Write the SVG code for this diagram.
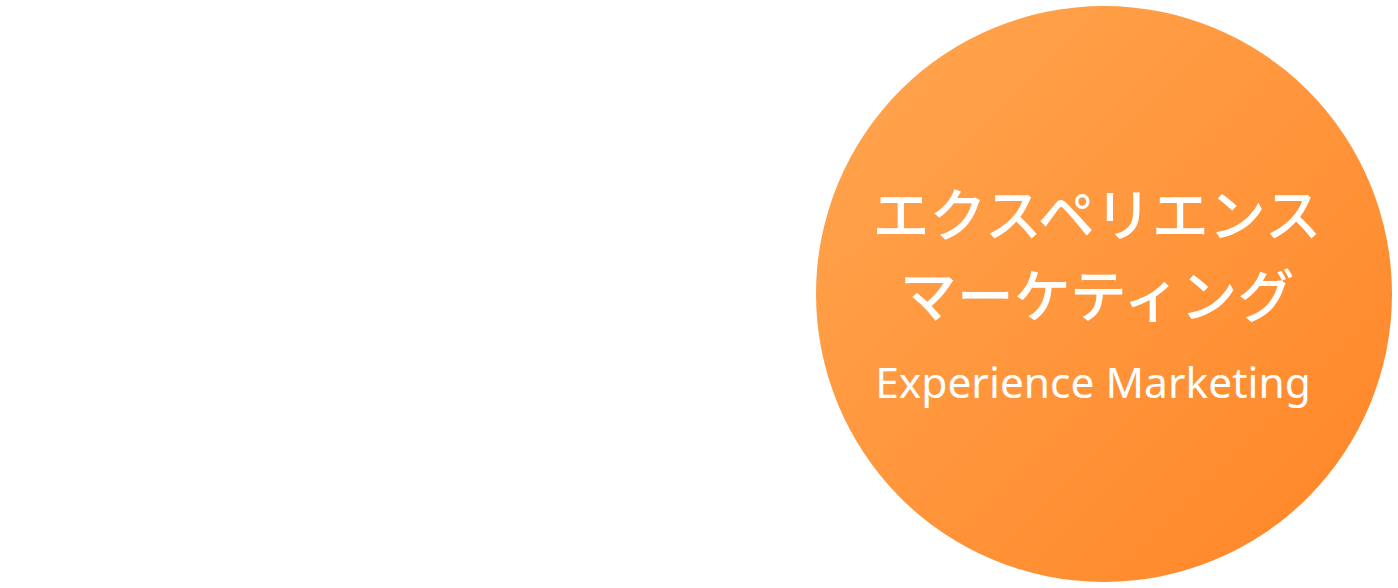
<svg xmlns="http://www.w3.org/2000/svg" width="1398" height="588" viewBox="0 0 1398 588">
<defs>
<linearGradient id="g" x1="0" y1="0" x2="1" y2="1">
<stop offset="0" stop-color="#FFA651"/>
<stop offset="1" stop-color="#FF8526"/>
</linearGradient>
<style>
.jp{font-family:"Noto Sans CJK JP","Noto Sans",sans-serif;font-size:57px;font-weight:500;fill:#fff;text-anchor:middle}
.en{font-family:"Noto Sans","Open Sans",sans-serif;font-size:42.5px;fill:#fff;text-anchor:middle}
</style>
</defs>
<rect width="1398" height="588" fill="#fff"/>
<g id="circle-node">
<circle cx="1104" cy="294" r="288" fill="url(#g)"/>
<text class="jp" x="1097" y="236">エクスペリエンス</text>
<text class="jp" x="1097" y="317">マーケティング</text>
<text class="en" x="1093" y="398">Experience Marketing</text>
</g>
<g id="connectors"/>
</svg>
